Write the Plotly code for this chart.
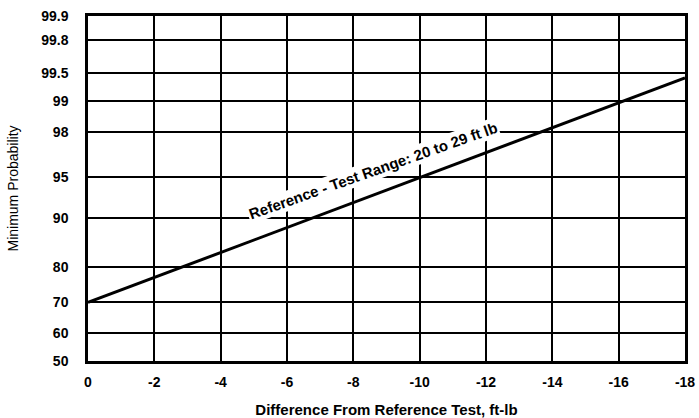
from statistics import NormalDist
import plotly.graph_objects as go

# ---- data ----
diff_ft_lb = [0, -18]                 # difference from reference test
min_probability = [70.0, 99.44]       # minimum probability, percent
prob_ticks = [50, 60, 70, 80, 90, 95, 98, 99, 99.5, 99.8, 99.9]
prob_tick_labels = ["50", "60", "70", "80", "90", "95", "98", "99", "99.5", "99.8", "99.9"]
x_ticks = [0, -2, -4, -6, -8, -10, -12, -14, -16, -18]
line_label = "Reference - Test Range: 20 to 29 ft lb"
label_x = -8.6
label_prob = 95.6

nd = NormalDist()
def pscale(p):
    return nd.inv_cdf(p / 100.0)

FONT = "Liberation Sans, Arial, Helvetica, sans-serif"

fig = go.Figure()
fig.add_trace(go.Scatter(
    x=diff_ft_lb,
    y=[pscale(p) for p in min_probability],
    mode="lines",
    line=dict(color="black", width=3),
    showlegend=False,
    hoverinfo="skip",
))

fig.add_annotation(
    x=label_x, y=pscale(label_prob), xref="x", yref="y",
    text="<b>" + line_label + "</b>",
    showarrow=False, textangle=-19.5,
    font=dict(family=FONT, size=15, color="black"),
    bgcolor="white", borderpad=1,
)

fig.update_layout(
    width=699, height=418,
    margin=dict(l=88, r=14, t=16, b=57),
    paper_bgcolor="white", plot_bgcolor="white",
    font=dict(family=FONT, color="black"),
    xaxis=dict(
        range=[0, -18],
        tickvals=x_ticks,
        ticktext=[str(v) for v in x_ticks],
        tickfont=dict(family=FONT, size=14, color="black", weight="bold"),
        showgrid=True, gridcolor="black", gridwidth=1.5,
        zeroline=False,
        showline=True, linecolor="black", linewidth=2.5, mirror=True,
        ticks="", ticklabelstandoff=6, automargin=False,
        title=dict(text="<b>Difference From Reference Test, ft-lb</b>",
                   font=dict(family=FONT, size=15, color="black"), standoff=18),
    ),
    yaxis=dict(
        range=[pscale(50), pscale(99.9)],
        tickvals=[pscale(p) for p in prob_ticks],
        ticktext=prob_tick_labels,
        tickfont=dict(family=FONT, size=14, color="black", weight="bold"),
        showgrid=True, gridcolor="black", gridwidth=1.5,
        zeroline=False,
        showline=True, linecolor="black", linewidth=2.5, mirror=True,
        ticks="", ticklabelstandoff=14, automargin=False,
        title=dict(text="Minimum Probability",
                   font=dict(family=FONT, size=14, color="black"), standoff=20),
    ),
)

fig.write_html("out.html")
